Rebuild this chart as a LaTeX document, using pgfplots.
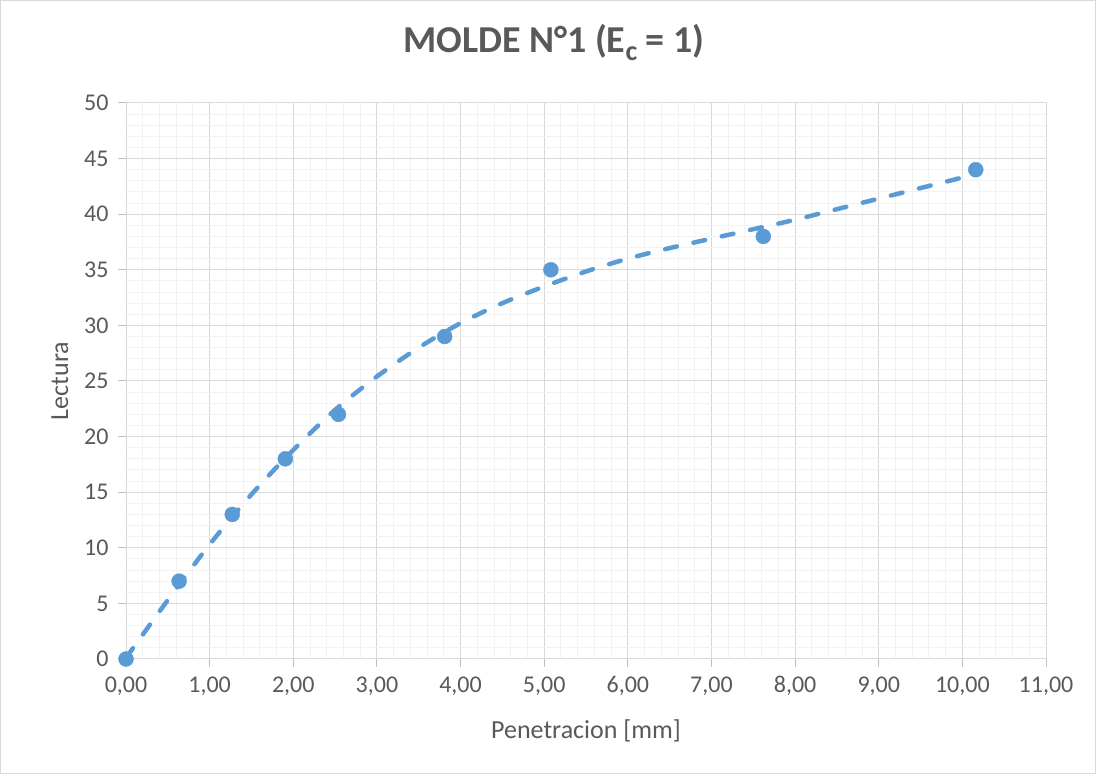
\documentclass[border=0pt]{standalone}
\usepackage{pgfplots}
\pgfplotsset{compat=1.18}
\usepackage{fontspec}
\setmainfont{Carlito}
\definecolor{txtgray}{HTML}{595959}
\definecolor{majgrid}{HTML}{D9D9D9}
\definecolor{mingrid}{HTML}{F2F2F2}
\definecolor{axgray}{HTML}{BFBFBF}
\definecolor{ptblue}{HTML}{5B9BD5}
\begin{document}
\begin{tikzpicture}[x=1bp,y=1bp]
\path[use as bounding box] (0,0) rectangle (1096,774);
\draw[majgrid, line width=1bp] (0.5,0.5) rectangle (1095.5,773.5);
\begin{axis}[
  at={(126bp,115bp)}, anchor=origin,
  scale only axis, width=920bp, height=556bp,
  xmin=0, xmax=11, ymin=0, ymax=50,
  xtick distance=1, ytick distance=5,
  minor x tick num=4, minor y tick num=4,
  grid=both,
  major grid style={majgrid, line width=1bp},
  minor grid style={mingrid, line width=1bp},
  axis line style={majgrid, line width=1bp},
  tick pos=left, tick align=outside,
  major tick length=8bp, minor tick length=0pt,
  tick style={axgray, line width=1bp},
  every tick label/.style={font=\fontsize{24bp}{28bp}\selectfont, text=txtgray},
  /pgf/number format/assume math mode=true,
  x tick label style={/pgf/number format/fixed, /pgf/number format/fixed zerofill, /pgf/number format/precision=2, /pgf/number format/use comma, yshift=-6bp},
  y tick label style={/pgf/number format/fixed, xshift=-6bp},
  xlabel={Penetracion [mm]},
  ylabel={Lectura},
  xlabel style={font=\fontsize{26bp}{30bp}\selectfont, text=txtgray, at={(0.5,0)}, anchor=center, yshift=-72bp},
  ylabel style={font=\fontsize{26bp}{30bp}\selectfont, text=txtgray, at={(0,0.5)}, anchor=center, yshift=66bp},
  title={\bfseries MOLDE N°1 (E\raisebox{-8bp}{\fontsize{28bp}{30bp}\selectfont c} = 1)},
  title style={font=\fontsize{38bp}{44bp}\selectfont, text=txtgray, at={(0.465,1)}, anchor=center, yshift=55bp},
  clip=false,
]
\addplot[only marks, mark=*, mark size=7.5bp, ptblue, mark options={fill=ptblue, draw=ptblue}] coordinates {
  (0,0) (0.635,7) (1.27,13) (1.905,18) (2.54,22) (3.81,29) (5.08,35) (7.62,38) (10.16,44)
};
\addplot[ptblue, line width=4.5bp, line cap=round, dash pattern=on 12bp off 17bp, smooth, no markers] coordinates {
  (0,0.1) (0.5,5.3) (1.0,10.3) (1.5,14.8) (2.0,18.8) (2.5,22.4) (3.0,25.4) (3.5,28.0)
  (4.0,30.2) (4.5,32.0) (5.0,33.5) (5.5,34.85) (6.0,36.0) (6.5,36.95) (7.0,37.8)
  (7.5,38.65) (8.0,39.5) (8.5,40.45) (9.0,41.4) (9.5,42.35) (10.0,43.3) (10.16,43.65)
};
\end{axis}
\end{tikzpicture}
\end{document}
